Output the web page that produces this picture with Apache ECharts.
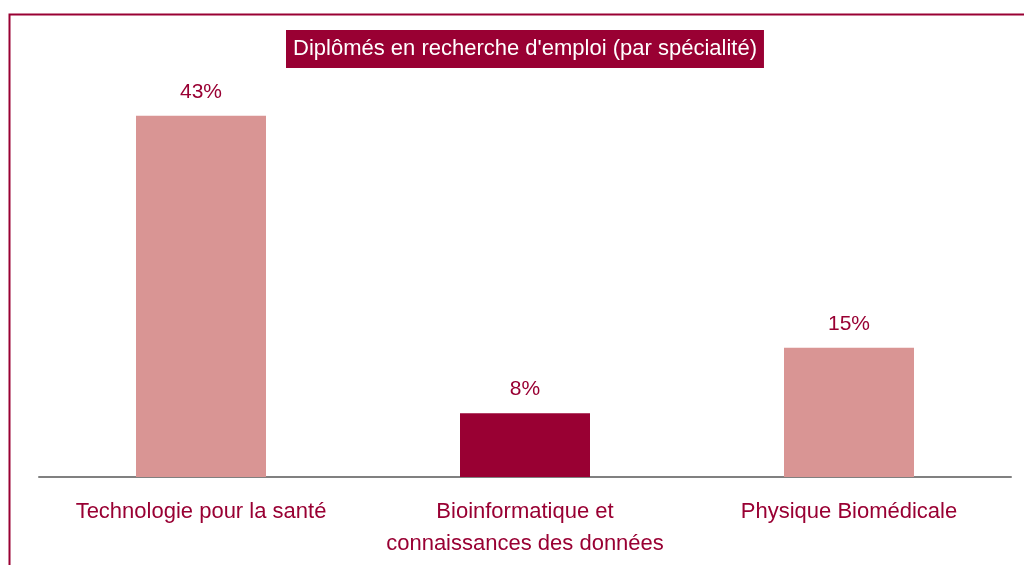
<!DOCTYPE html>
<html>
<head>
<meta charset="utf-8">
<script src="https://cdn.jsdelivr.net/npm/echarts@6/dist/echarts.min.js"></script>
<style>
  html, body { margin: 0; padding: 0; background: #fff; }
  #chart { width: 1024px; height: 565px; }
</style>
</head>
<body>
<div id="chart"></div>
<script>
// données
const categories = ['Technologie pour la santé', 'Bioinformatique et\nconnaissances des données', 'Physique Biomédicale'];
const values = [43, 7.6, 15.4];
const highlightIndex = 1;

const chart = echarts.init(document.getElementById('chart'));

const option = {
  animation: false,
  textStyle: { fontFamily: 'Liberation Sans, Arial, sans-serif' },
  title: {
    text: "Diplômés en recherche d'emploi (par spécialité)",
    left: 286,
    top: 30,
    backgroundColor: '#990033',
    padding: [8, 7, 8, 7],
    textStyle: { color: '#fff', fontSize: 22, fontWeight: 'normal', fontFamily: 'Liberation Sans, Arial, sans-serif' }
  },
  graphic: [{
    type: 'rect',
    shape: { x: 9.5, y: 14.5, width: 1100, height: 600 },
    style: { fill: 'none', stroke: '#990033', lineWidth: 2 },
    silent: true
  }],
  grid: { left: 39, right: 13, top: 57, bottom: 88, containLabel: false },
  xAxis: {
    type: 'category',
    data: categories,
    axisLine: { lineStyle: { color: '#808080', width: 2 } },
    axisTick: { show: false },
    axisLabel: { interval: 0, color: '#990033', fontSize: 22, lineHeight: 32, margin: 19 }
  },
  yAxis: {
    type: 'value',
    min: 0,
    max: 50,
    show: false,
    splitLine: { show: false }
  },
  series: [{
    type: 'bar',
    barWidth: 130,
    data: values.map((v, i) => ({
      value: v,
      itemStyle: { color: i === highlightIndex ? '#990033' : '#D99594' }
    })),
    label: {
      show: true,
      position: 'top',
      distance: 13,
      color: '#990033',
      fontSize: 21,
      formatter: p => Math.round(p.value) + '%'
    }
  }]
};

chart.setOption(option);
</script>
</body>
</html>
